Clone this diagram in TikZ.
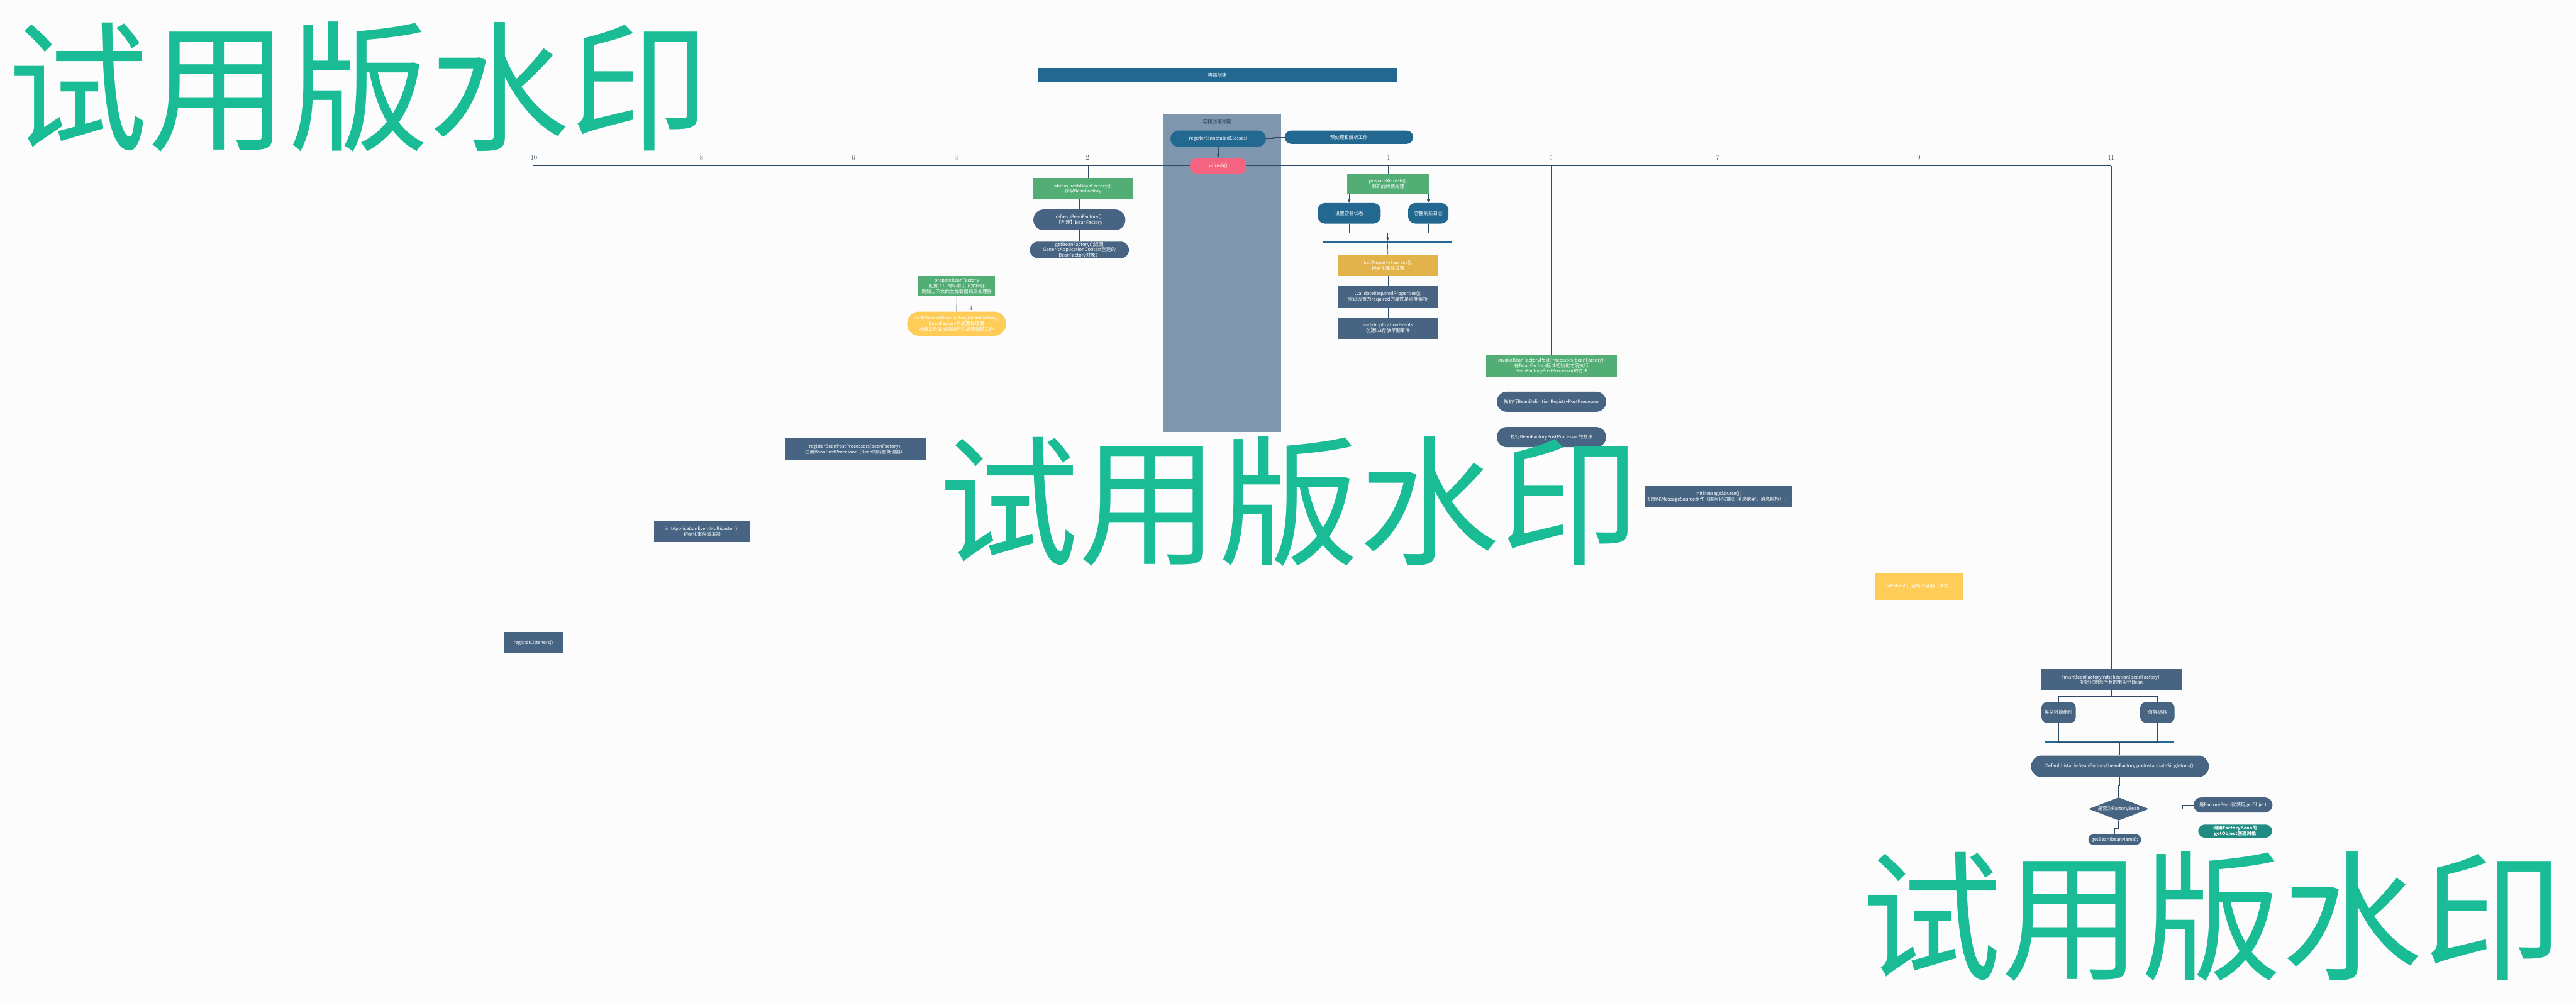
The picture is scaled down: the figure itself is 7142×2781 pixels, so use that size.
\documentclass[tikz,border=0pt]{standalone}
\usepackage{fontspec}
\newfontfamily\cjk{Noto Sans CJK SC}
\usetikzlibrary{shapes.geometric,arrows.meta}
\definecolor{bg}{HTML}{FCFCFC}
\definecolor{cblue}{HTML}{236891}
\definecolor{cslate}{HTML}{476582}
\definecolor{cgreen}{HTML}{52AE75}
\definecolor{cgold}{HTML}{E1B34A}
\definecolor{cyellow}{HTML}{FFCD57}
\definecolor{cpink}{HTML}{F46480}
\definecolor{cteal}{HTML}{208B82}
\definecolor{cpanel}{HTML}{7F97AE}
\definecolor{cline}{HTML}{2E4A66}
\definecolor{cdark}{HTML}{2C3E50}
\definecolor{cwm}{HTML}{1ABC96}
\tikzset{
  base/.style={font=\cjk\fontsize{13}{15}\selectfont, text=white, align=center, inner sep=0pt},
  sq/.style={base, rectangle},
  pill/.style={base, rectangle, rounded corners=#1},
  ln/.style={draw=cline, line width=1.2pt},
  arr/.style={ln, -{Triangle[length=10pt,width=7pt]}},
  num/.style={font=\fontsize{20}{20}\selectfont, text=cdark, inner sep=0pt},
  wm/.style={font=\cjk\fontsize{389}{389}\selectfont, text=cwm, inner sep=0pt},
  barstyle/.style={rectangle, fill=cblue, inner sep=0pt, minimum height=5pt}
}
\begin{document}
\begin{tikzpicture}[x=1pt,y=-1pt]
\fill[bg] (0,0) rectangle (7142,2781);
\useasboundingbox (0,0) rectangle (7142,2781);

% title and panel
\node[sq, fill=cblue, minimum width=996pt, minimum height=38pt] (title) at (3375,208) {容器创建};
\node[rectangle, fill=cpanel, minimum width=327pt, minimum height=882pt, inner sep=0pt] (panel) at (3388.5,757) {};
\node[base, text=cdark] (ptitle) at (3374,338) {容器创建过程};

% column top coordinates on the main line
\coordinate (t10) at (1478,460);
\coordinate (t8) at (1946,460);
\coordinate (t6) at (2370,460);
\coordinate (t3) at (2652,460);
\coordinate (t2) at (3017,460);
\coordinate (t1) at (3849,460);
\coordinate (t5) at (4301,460);
\coordinate (t7) at (4763,460);
\coordinate (t9) at (5320,460);
\coordinate (t11) at (5854,460);
\draw[ln] (t10) -- (t11);

% numbers
\node[num] (n10) at (1480,438) {10};
\node[num] (n8) at (1945,438) {8};
\node[num] (n6) at (2366,438) {6};
\node[num] (n3) at (2651,438) {3};
\node[num] (n2) at (3015,438) {2};
\node[num] (n1) at (3850,438) {1};
\node[num] (n5) at (4300,438) {5};
\node[num] (n7) at (4762,438) {7};
\node[num] (n9) at (5320,438) {9};
\node[num] (n11) at (5853,438) {11};

% panel content
\node[pill=22pt, fill=cblue, minimum width=265pt, minimum height=45pt] (reg) at (3377.5,384.5) {register(annotatedClasses)};
\node[pill=20pt, fill=cpink, minimum width=157pt, minimum height=44pt] (refresh) at (3377.5,460) {refresh()};
\node[pill=18pt, fill=cblue, minimum width=356pt, minimum height=37pt] (pre) at (3740,380.5) {预处理和解析工作};
\draw[arr] (reg.south) -- (refresh.north);
\draw[ln] (reg.east) -- ++(20,0) |- (pre.west);

% column 1
\node[sq, fill=cgreen, minimum width=228pt, minimum height=58pt] (prep) at (3848,510) {prepareRefresh();\\刷新前的预处理};
\node[pill=20pt, fill=cblue, minimum width=175pt, minimum height=57pt] (st) at (3740.5,591.5) {设置容器状态};
\node[pill=20pt, fill=cblue, minimum width=112pt, minimum height=57pt] (log) at (3960,591.5) {容器刷新日志};
\coordinate (j1) at (3847,646);
\node[barstyle, minimum width=359pt] (bar1) at (3846.5,671) {};
\node[sq, fill=cgold, minimum width=280pt, minimum height=59pt] (initps) at (3848,736.5) {initPropertySources();\\初始化属性设置};
\node[sq, fill=cslate, minimum width=280pt, minimum height=59pt] (valid) at (3848,822.5) {.validateRequiredProperties();\\验证设置为required的属性是否能解析};
\node[sq, fill=cslate, minimum width=280pt, minimum height=59pt] (early) at (3848,909.5) {earlyApplicationEvents\\创建list存放早期事件};
\draw[ln] (t1) -- (t1 |- prep.north);
\draw[arr] (st.north |- prep.south) -- (st.north);
\draw[arr] (log.north |- prep.south) -- (log.north);
\draw[ln] (st.south) |- (j1) -| (log.south);
\draw[arr] (j1) -- (j1 |- bar1.north);
\draw[ln] (j1 |- bar1.south) -- (initps.north);
\draw[ln] (initps.south) -- (valid.north);
\draw[ln] (valid.south) -- (early.north);

% column 2
\node[sq, fill=cgreen, minimum width=275pt, minimum height=59pt] (obtain) at (3002.5,523.5) {obtainFreshBeanFactory();\\获取BeanFactory};
\node[pill=28pt, fill=cslate, minimum width=255pt, minimum height=57pt] (refbf) at (2992.5,609.5) {refreshBeanFactory();\\【创建】BeanFactory};
\node[pill=23pt, fill=cslate, minimum width=275pt, minimum height=46pt] (getbf) at (2992.5,693) {getBeanFactory();返回\\GenericApplicationContext创建的\\BeanFactory对象；};
\draw[ln] (t2) -- (t2 |- obtain.north);
\draw[ln] (refbf.north |- obtain.south) -- (refbf.north);
\draw[ln] (refbf.south) -- (getbf.north);

% column 3
\node[sq, fill=cgreen, minimum width=213pt, minimum height=57pt] (prepbf) at (2652.5,793.5) {prepareBeanFactory\\配置工厂的标准上下文特征\\例如上下文的类加载器和后处理器};
\node[pill=33pt, fill=cyellow, minimum width=274pt, minimum height=67pt] (postbf) at (2652,897.5) {postProcessBeanFactory(beanFactory);\\BeanFactory的后置处理器\\准备工作完成后进行的后置处理工作};
\node[num] (n4) at (2692,853) {4};
\draw[ln] (t3) -- (t3 |- prepbf.north);
\draw[ln] (prepbf.south) -- (postbf.north);

% column 5
\node[sq, fill=cgreen, minimum width=363pt, minimum height=59pt] (invoke) at (4301.5,1014.5) {invokeBeanFactoryPostProcessors(beanFactory);\\在BeanFactory标准初始化之后执行\\BeanFactoryPostProcessor的方法};
\node[pill=28pt, fill=cslate, minimum width=303pt, minimum height=56pt] (xian) at (4301.5,1114) {先执行BeanDefinitionRegistryPostProcessor};
\node[pill=28pt, fill=cslate, minimum width=303pt, minimum height=56pt] (zhix) at (4301.5,1212) {执行BeanFactoryPostProcessor的方法};
\draw[ln] (t5) -- (t5 |- invoke.north);
\draw[ln] (invoke.south) -- (xian.north);
\draw[ln] (xian.south) -- (zhix.north);

% column 6
\node[sq, fill=cslate, minimum width=390pt, minimum height=60pt] (regbpp) at (2371,1246) {registerBeanPostProcessors(beanFactory);\\注册BeanPostProcessor（Bean的后置处理器）};
\draw[ln] (t6) -- (t6 |- regbpp.north);

% column 7
\node[sq, fill=cslate, minimum width=407pt, minimum height=59pt] (initms) at (4763.5,1377.5) {initMessageSource();\\初始化MessageSource组件（国际化功能；消息绑定，消息解析）；};
\draw[ln] (t7) -- (t7 |- initms.north);

% column 8
\node[sq, fill=cslate, minimum width=265pt, minimum height=58pt] (initaem) at (1946.5,1474) {initApplicationEventMulticaster();\\初始化事件派发器};
\draw[ln] (t8) -- (t8 |- initaem.north);

% column 10
\node[sq, fill=cslate, minimum width=162pt, minimum height=59pt] (regl) at (1479,1782.5) {registerListeners()};
\draw[ln] (t10) -- (t10 |- regl.north);

% column 9
\node[sq, fill=cyellow, minimum width=247pt, minimum height=74pt] (onref) at (5320.5,1626) {onRefresh();留给子容器（子类）};
\draw[ln] (t9) -- (t9 |- onref.north);

% column 11
\node[sq, fill=cslate, minimum width=388pt, minimum height=59pt] (finish) at (5854,1884.5) {finishBeanFactoryInitialization(beanFactory);\\初始化剩余所有的单实例Bean};
\node[pill=15pt, fill=cslate, minimum width=95pt, minimum height=57pt] (typec) at (5707.5,1975.5) {类型转换组件};
\node[pill=15pt, fill=cslate, minimum width=95pt, minimum height=57pt] (valr) at (5981.5,1975.5) {值解析器};
\node[barstyle, minimum width=358pt] (bar2) at (5848,2058) {};
\coordinate (j2) at (5854,1931);
\coordinate (j3) at (5854,2058);
\node[pill=30pt, fill=cslate, minimum width=493pt, minimum height=60pt] (dl) at (5877.5,2125) {DefaultListableBeanFactory\#beanFactory.preInstantiateSingletons();};
\node[diamond, aspect=2.6, fill=cslate, base, minimum width=167pt, minimum height=64pt] (dia) at (5874,2243) {是否为FactoryBean};
\node[pill=21pt, fill=cslate, minimum width=219pt, minimum height=42pt] (fb) at (6191,2232) {是FactoryBean就使用getObject};
\node[pill=18pt, fill=cteal, minimum width=205pt, minimum height=36pt, font=\cjk\bfseries\fontsize{13}{15}\selectfont] (teal) at (6197,2304.5) {调用FactoryBean的\\getObject创建对象};
\node[pill=15pt, fill=cslate, minimum width=146pt, minimum height=30pt] (gb) at (5863,2328) {getBean(beanName);};
\draw[ln] (t11) -- (t11 |- finish.north);
\draw[ln] (finish.south) -- (j2);
\draw[ln] (typec.north) |- (j2) -| (valr.north);
\draw[ln] (typec.south) |- (j3) -| (valr.south);
\draw[ln] (bar2.south -| dl.north) -- (dl.north);
\draw[ln] (dl.south) -- ++(0,24) coordinate (k1) -- (k1 -| dia.north) -- (dia.north);
\draw[ln] (dia.east) -- ++(94,0) |- (fb.west);
\draw[ln] (dia.south) -- ++(0,22) coordinate (k2) -- (k2 -| gb.north) -- (gb.north);

% watermarks
\node[wm] (wm1) at (995,240) {试用版水印};
\node[wm] (wm2) at (3575,1389) {试用版水印};
\node[wm] (wm3) at (6133,2540) {试用版水印};
\end{tikzpicture}
\end{document}
